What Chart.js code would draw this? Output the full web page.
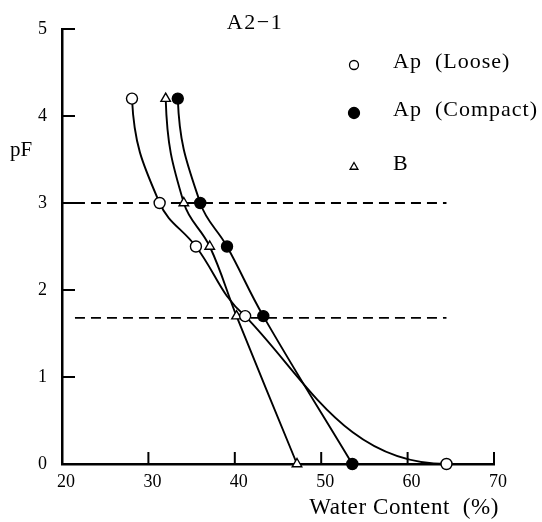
<!DOCTYPE html>
<html><head><meta charset="utf-8">
<script src="https://cdn.jsdelivr.net/npm/chart.js@4.4.1/dist/chart.umd.min.js"></script>
<style>html,body{margin:0;padding:0;background:#fff}</style>
</head><body>
<canvas id="c" width="542" height="522"></canvas>
<script>
// ---- data ----
const pFLevels   = [4.2, 3.0, 2.5, 1.7, 0];
const looseWC    = [28.1, 31.3, 35.5, 41.2, 64.5];
const compactWC  = [33.4, 36.0, 39.1, 43.3, 53.6];
const bWC        = [32.0, 34.1, 37.1, 40.2, 47.2];
const dashLevels = [3.0, 1.68];
const dashFrom   = 21.5;
const dashTo     = 64.5;
const xTicks     = [20, 30, 40, 50, 60, 70];
const yTicks     = [0, 1, 2, 3, 4, 5];
const seriesNames = ['Ap  (Loose)', 'Ap  (Compact)', 'B'];
const chartTitle = 'A2\u22121';
const xTitle = 'Water Content  (%)';
const yTitle = 'pF';

const SERIF = '"Liberation Serif", "DejaVu Serif", serif';
const pts = xs => xs.map((x, i) => ({x: x, y: pFLevels[i]}));

const styles = [
  {pointStyle: 'circle', bg: '#fff', r: 5.5, lr: 4.5, flatEnd: true},
  {pointStyle: 'circle', bg: '#000', r: 5.5, lr: 5.5, flatEnd: false},
  {pointStyle: 'triangle', bg: '#fff', r: 5.5, lr: 4.5, flatEnd: false}
];

const curveSets = [looseWC, compactWC, bWC].map((xs, i) => ({
  label: seriesNames[i],
  data: pts(xs),
  borderColor: '#000',
  borderWidth: 1.9,
  tension: 0.4,
  pointStyle: styles[i].pointStyle,
  pointRadius: styles[i].r,
  pointBackgroundColor: styles[i].bg,
  pointBorderColor: '#000',
  pointBorderWidth: 1.4,
  clip: false,
  isCurve: true,
  flatEnd: styles[i].flatEnd,
  order: 1
}));

const dashSets = dashLevels.map(v => ({
  label: 'pF ' + v,
  data: [{x: dashFrom, y: v}, {x: dashTo, y: v}],
  borderColor: '#000',
  borderWidth: 1.8,
  borderDash: [10, 6],
  pointRadius: 0,
  tension: 0,
  order: 2
}));

// shape the end tangents of the smooth curves (steep start, flat tail)
const curveShape = {
  id: 'curveShape',
  beforeDatasetDraw(chart, args) {
    const ds = chart.data.datasets[args.index];
    if (!ds.isCurve) return;
    const meta = args.meta;
    meta.dataset.updateControlPoints(chart.chartArea, 'x');
    const P = meta.data;
    const a = P[0], b = P[1];
    a.cp2x = a.x + 0.08 * (b.x - a.x);
    a.cp2y = a.y + 0.45 * (b.y - a.y);
    if (ds.flatEnd) {
      const n = P.length, z = P[n - 1], y = P[n - 2];
      z.cp1x = z.x - 0.5 * (z.x - y.x);
      z.cp1y = z.y;
      y.cp2x = y.x + 0.3 * (z.x - y.x);
      y.cp2y = y.y + 0.42 * (z.y - y.y);
    }
  }
};

const decor = {
  id: 'decor',
  afterDraw(chart) {
    const ctx = chart.ctx, xs = chart.scales.x, ys = chart.scales.y;
    const a = chart.chartArea;
    ctx.save();
    ctx.strokeStyle = '#000';
    ctx.lineWidth = 2;
    xTicks.forEach(v => {
      if (v === xs.min) return;
      const px = xs.getPixelForValue(v);
      ctx.beginPath(); ctx.moveTo(px, a.bottom); ctx.lineTo(px, a.bottom - 12); ctx.stroke();
    });
    yTicks.forEach(v => {
      if (v === ys.min) return;
      const py = ys.getPixelForValue(v);
      ctx.beginPath(); ctx.moveTo(a.left, py); ctx.lineTo(a.left + 13, py); ctx.stroke();
    });
    ctx.fillStyle = '#000';
    ctx.textBaseline = 'middle';
    ctx.font = '22px ' + SERIF;
    ctx.letterSpacing = '1.5px';
    ctx.textAlign = 'center';
    ctx.fillText(chartTitle, 255, 23);
    ctx.font = '21px ' + SERIF;
    ctx.letterSpacing = '0px';
    ctx.fillText(yTitle, 21, 150);
    ctx.font = '23px ' + SERIF;
    ctx.letterSpacing = '0.6px';
    ctx.textAlign = 'right';
    ctx.fillText(xTitle, 499, 508);
    const rows = [65, 113, 167];
    ctx.textAlign = 'left';
    ctx.font = '22px ' + SERIF;
    ctx.letterSpacing = '1px';
    seriesNames.forEach((n, i) => {
      ctx.fillStyle = styles[i].bg;
      ctx.strokeStyle = '#000';
      ctx.lineWidth = 1.3;
      Chart.helpers.drawPoint(ctx, {pointStyle: styles[i].pointStyle, radius: styles[i].lr, rotation: 0, borderWidth: 1.3}, 354, rows[i]);
      ctx.fillStyle = '#000';
      ctx.fillText(n, 393, rows[i] - 3);
    });
    ctx.restore();
  }
};

const tickFont = {family: SERIF, size: 18};
new Chart(document.getElementById('c'), {
  type: 'line',
  data: {datasets: [...curveSets, ...dashSets]},
  options: {
    responsive: false,
    animation: false,
    layout: {padding: {top: 29, right: 48, left: 0, bottom: 0}},
    plugins: {legend: {display: false}, tooltip: {enabled: false}},
    scales: {
      x: {
        type: 'linear', min: 20, max: 70,
        afterFit: s => { s.height = 58; },
        afterBuildTicks: s => { s.ticks = xTicks.map(v => ({value: v})); },
        grid: {drawOnChartArea: false, drawTicks: false},
        border: {display: true, color: '#000', width: 2.5},
        ticks: {font: tickFont, color: '#000', padding: 7, labelOffset: 4, maxRotation: 0, autoSkip: false}
      },
      y: {
        type: 'linear', min: 0, max: 5,
        afterFit: s => { s.width = 62; },
        afterBuildTicks: s => { s.ticks = yTicks.map(v => ({value: v})); },
        grid: {drawOnChartArea: false, drawTicks: false},
        border: {display: true, color: '#000', width: 2.5},
        ticks: {font: tickFont, color: '#000', padding: 15, autoSkip: false}
      }
    }
  },
  plugins: [curveShape, decor]
});
</script>
</body></html>
